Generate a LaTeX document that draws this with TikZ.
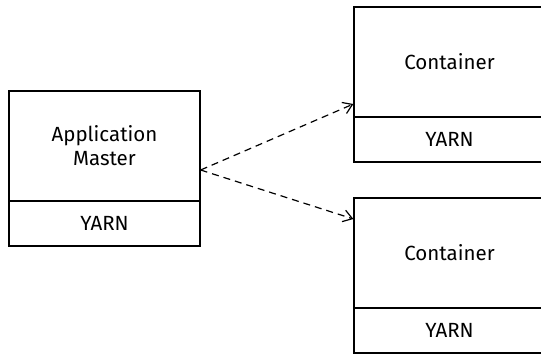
\documentclass[tikz,border=0pt]{standalone}
\usepackage{fontspec}
\setmainfont{Fira Sans}
\usetikzlibrary{arrows.meta}

\begin{document}
\begin{tikzpicture}[
            x = 1pt, y = -1pt, % pixel units, y grows downwards
            > = {Straight Barb[length=9pt, width=12pt]}, % open arrow head
            line width = 1.2pt % line style
        ]

        \tikzstyle{box}=[
            draw = black,
            minimum width = 191pt,
            inner sep = 0pt,
            align = center,
            font = \fontsize{20.5}{24}\selectfont
        ]
        \tikzstyle{upper}=[box, minimum height = 110pt]
        \tikzstyle{lower}=[box, minimum height = 45pt]

        \useasboundingbox (0,0) rectangle (541,354);
        \clip (0,0) rectangle (541,354);

        \node (am) [upper] at (104.5,146) {Application\\Master};
        \node (amyarn) [lower] at (104.5,223.5) {YARN};
        \node (c1) [upper] at (449.5,62) {Container};
        \node (c1yarn) [lower] at (449.5,139.5) {YARN};
        \node (c2) [upper] at (449.5,253) {Container};
        \node (c2yarn) [lower] at (449.5,330.5) {YARN};

        \path[->, dash pattern = on 7pt off 5pt] ([yshift=-24pt]am.east) edge ([yshift=-42pt]c1.west);
        \path[->, dash pattern = on 7pt off 5pt] ([yshift=-24pt]am.east) edge ([yshift=34pt]c2.west);

    \end{tikzpicture}
\end{document}
